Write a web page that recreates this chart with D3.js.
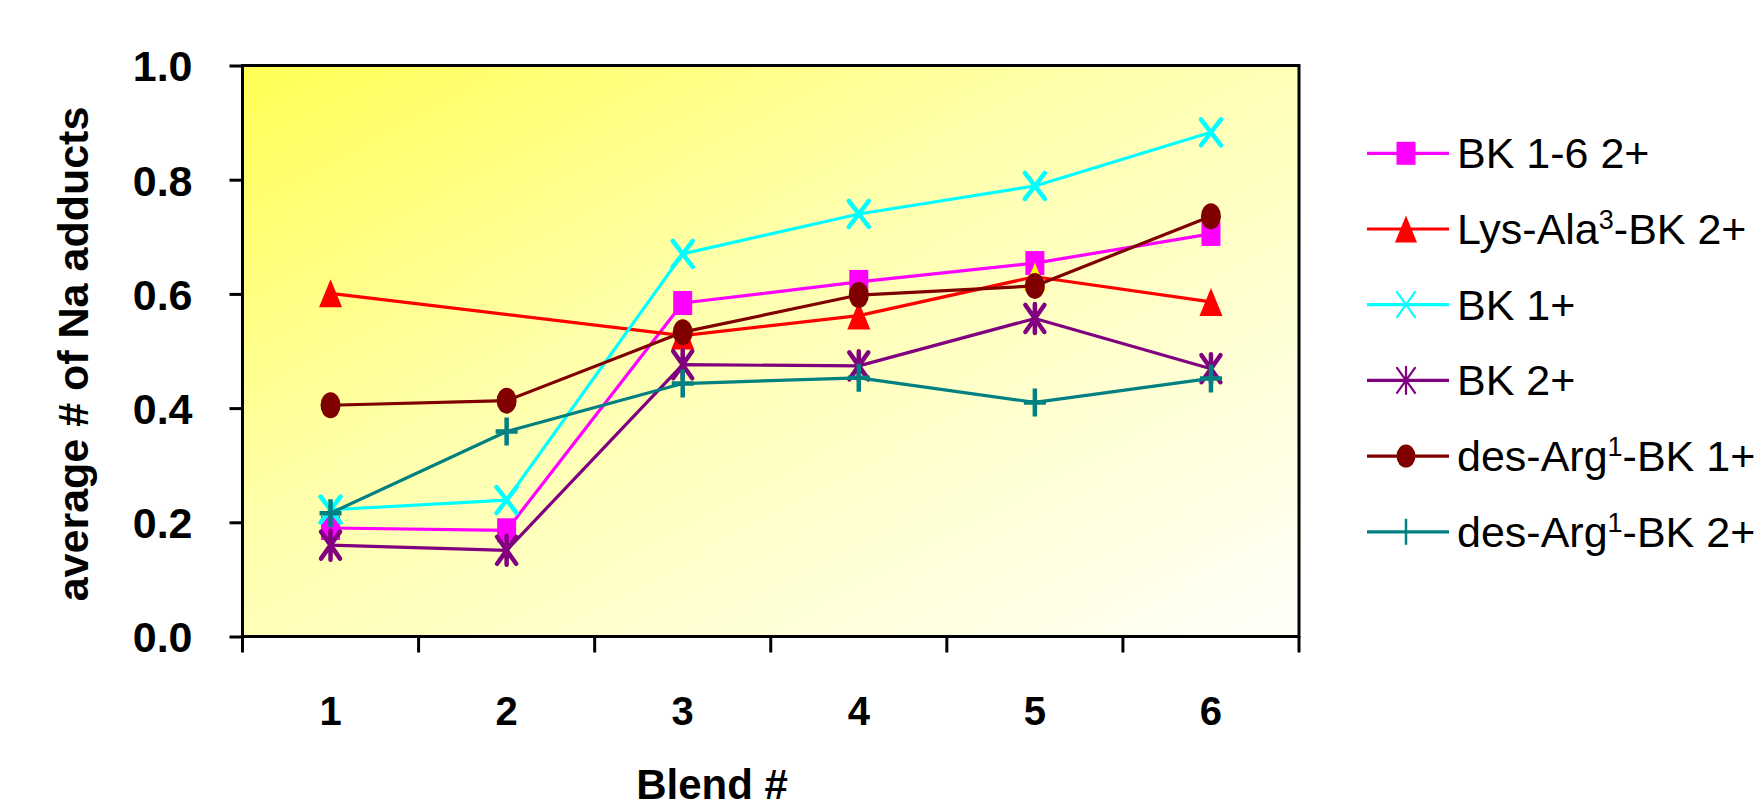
<!DOCTYPE html>
<html>
<head>
<meta charset="utf-8">
<script src="https://cdn.jsdelivr.net/npm/d3@7"></script>
<style>
  html, body { margin: 0; padding: 0; background: #ffffff; }
  svg { display: block; }
  text { font-family: "Liberation Sans", Arial, sans-serif; }
</style>
</head>
<body>
<svg id="chart" width="1755" height="810"></svg>
<script>
// ---------- data ----------
const categories = ["1", "2", "3", "4", "5", "6"];
const yTicks = [0.0, 0.2, 0.4, 0.6, 0.8, 1.0];
const seriesNames = ["BK 1-6 2+", "Lys-Ala3-BK 2+", "BK 1+", "BK 2+", "des-Arg1-BK 1+", "des-Arg1-BK 2+"];
const bk16_2 = [0.190, 0.186, 0.584, 0.621, 0.654, 0.705];
const lysAla3_2 = [0.601, null, 0.527, 0.562, 0.630, 0.586];
const bk_1 = [0.222, 0.239, 0.670, 0.740, 0.789, 0.883];
const bk_2 = [0.160, 0.151, 0.476, 0.474, 0.557, 0.469];
const desArg1_1 = [0.405, 0.413, 0.533, 0.598, 0.614, 0.736];
const desArg1_2 = [0.216, 0.359, 0.443, 0.453, 0.410, 0.452];
const seriesValues = [bk16_2, lysAla3_2, bk_1, bk_2, desArg1_1, desArg1_2];

// ---------- styles ----------
const colors = ["#ff00ff", "#ff0000", "#00ffff", "#800080", "#800000", "#008080"];
const markers = ["square", "triangle", "x", "star", "circle", "plus"];
// per-point marker fill overrides: [seriesIndex, pointIndex, fill]
const markerOverrides = [[1, 4, "#ffff00"]];

const svg = d3.select("#chart");
const pLeft = 242.5, pRight = 1299, pTop = 65.5, pBottom = 636.5;

const x = d3.scaleBand().domain(categories).range([pLeft, pRight]).padding(0);
const y = d3.scaleLinear().domain([0, 1]).range([pBottom, pTop]);
const cx = c => x(c) + x.bandwidth() / 2;

// background gradient
const defs = svg.append("defs");
const grad = defs.append("linearGradient").attr("id", "bg")
  .attr("x1", "0").attr("y1", "0").attr("x2", "1").attr("y2", "1");
grad.append("stop").attr("offset", "0%").attr("stop-color", "#ffff55");
grad.append("stop").attr("offset", "40%").attr("stop-color", "#ffffaa");
grad.append("stop").attr("offset", "100%").attr("stop-color", "#fffffa");

svg.append("rect")
  .attr("x", pLeft).attr("y", pTop)
  .attr("width", pRight - pLeft).attr("height", pBottom - pTop)
  .attr("fill", "url(#bg)");

// Y axis
const yAxis = d3.axisLeft(y).tickValues(yTicks).tickSize(13).tickPadding(37)
  .tickFormat(d3.format(".1f"));
const gy = svg.append("g").attr("transform", `translate(${pLeft},0)`).call(yAxis);
gy.select(".domain").remove();
gy.selectAll(".tick line").attr("stroke", "#000").attr("stroke-width", 3);
gy.selectAll(".tick text").attr("fill", "#000")
  .style("font-size", "43px").style("font-weight", "bold")
  .attr("dy", "0.36em");

// X axis labels
const xAxis = d3.axisBottom(x).tickSize(0).tickPadding(60);
const gx = svg.append("g").attr("transform", `translate(0,${pBottom})`).call(xAxis);
gx.select(".domain").remove();
gx.selectAll(".tick text").attr("fill", "#000")
  .attr("y", 88.5).attr("dy", 0)
  .style("font-size", "40px").style("font-weight", "bold");

// X ticks at category boundaries
const boundaries = categories.map(c => x(c)).concat([x.range()[1]]);
svg.append("g").selectAll("line").data(boundaries).join("line")
  .attr("x1", d => d).attr("x2", d => d)
  .attr("y1", pBottom).attr("y2", pBottom + 16)
  .attr("stroke", "#000").attr("stroke-width", 3);

// frame
svg.append("rect")
  .attr("x", pLeft).attr("y", pTop)
  .attr("width", pRight - pLeft).attr("height", pBottom - pTop)
  .attr("fill", "none").attr("stroke", "#000").attr("stroke-width", 3);

// axis titles
svg.append("text")
  .attr("transform", `translate(88,354) rotate(-90)`)
  .attr("text-anchor", "middle")
  .style("font-size", "43px").style("font-weight", "bold")
  .text("average # of Na adducts");

svg.append("text")
  .attr("x", 712).attr("y", 799)
  .attr("text-anchor", "middle")
  .style("font-size", "42px").style("font-weight", "bold")
  .text("Blend #");

// marker drawing
function drawMarker(g, type, color, fill, legendMode) {
  const sw = legendMode ? 2.2 : 4.5;
  if (type === "square") {
    const w = 19, h = legendMode ? 23 : 24;
    g.append("rect").attr("x", -w / 2).attr("y", -h / 2)
      .attr("width", w).attr("height", h).attr("fill", fill);
  } else if (type === "triangle") {
    const w = legendMode ? 22 : 23, h = legendMode ? 27 : 28;
    g.append("path")
      .attr("d", `M0,${-h / 2} L${w / 2},${h / 2} L${-w / 2},${h / 2} Z`)
      .attr("fill", fill);
  } else if (type === "circle") {
    const w = legendMode ? 19 : 20, h = legendMode ? 23 : 26;
    g.append("ellipse").attr("rx", w / 2).attr("ry", h / 2).attr("fill", fill);
  } else if (type === "x") {
    const hw = legendMode ? 9 : 10, hh = legendMode ? 12.5 : 13;
    g.append("path")
      .attr("d", `M${-hw},${-hh} L${hw},${hh} M${hw},${-hh} L${-hw},${hh}`)
      .attr("stroke", color).attr("stroke-width", sw).attr("stroke-linecap", "round").attr("fill", "none");
  } else if (type === "star") {
    const hw = legendMode ? 9 : 9.5, hh = legendMode ? 12.5 : 13.5;
    g.append("path")
      .attr("d", `M${-hw},${-hh} L${hw},${hh} M${hw},${-hh} L${-hw},${hh} M0,${-hh - 1} L0,${hh + 1}`)
      .attr("stroke", color).attr("stroke-width", sw).attr("stroke-linecap", "round").attr("fill", "none");
  } else if (type === "plus") {
    const hw = legendMode ? 0 : 11, hh = legendMode ? 13 : 14;
    g.append("path")
      .attr("d", `M${-hw},0 L${hw},0 M0,${-hh} L0,${hh}`)
      .attr("stroke", color).attr("stroke-width", legendMode ? 2.5 : 4.5).attr("fill", "none");
  }
}

// series
const line = d3.line().x(d => cx(categories[d[0]])).y(d => y(d[1]));
seriesValues.forEach((vals, si) => {
  const pts = vals.map((v, i) => [i, v]).filter(d => d[1] !== null);
  const g = svg.append("g");
  g.append("path").datum(pts).attr("d", line)
    .attr("fill", "none").attr("stroke", colors[si]).attr("stroke-width", 3.2)
    .attr("stroke-linejoin", "round");
  pts.forEach(([pi, v]) => {
    const ov = markerOverrides.find(o => o[0] === si && o[1] === pi);
    const fill = ov ? ov[2] : colors[si];
    const mg = g.append("g")
      .attr("transform", `translate(${cx(categories[pi])},${y(v)})`);
    drawMarker(mg, markers[si], colors[si], fill, false);
  });
});

// legend
const legendY0 = 153.3, legendStep = 75.7;
const legend = svg.append("g");
const legendLabels = [
  [["BK 1-6 2+", false]],
  [["Lys-Ala", false], ["3", true], ["-BK 2+", false]],
  [["BK 1+", false]],
  [["BK 2+", false]],
  [["des-Arg", false], ["1", true], ["-BK 1+", false]],
  [["des-Arg", false], ["1", true], ["-BK 2+", false]]
];
seriesNames.forEach((name, si) => {
  const ly = legendY0 + si * legendStep;
  const g = legend.append("g").attr("transform", `translate(0,${ly})`);
  g.append("line").attr("x1", 1367).attr("x2", 1449).attr("y1", 0).attr("y2", 0)
    .attr("stroke", colors[si]).attr("stroke-width", 3.2);
  const mg = g.append("g").attr("transform", "translate(1406,0)");
  drawMarker(mg, markers[si], colors[si], colors[si], true);
  const t = g.append("text").attr("x", 1457).attr("y", 15)
    .style("font-size", "43px").attr("fill", "#000");
  legendLabels[si].forEach(([s, sup], k) => {
    const ts = t.append("tspan").text(s);
    if (sup) {
      ts.style("font-size", "27px").attr("dy", -15);
    } else if (k > 0) {
      ts.attr("dy", 15);
    }
  });
});
</script>
</body>
</html>
